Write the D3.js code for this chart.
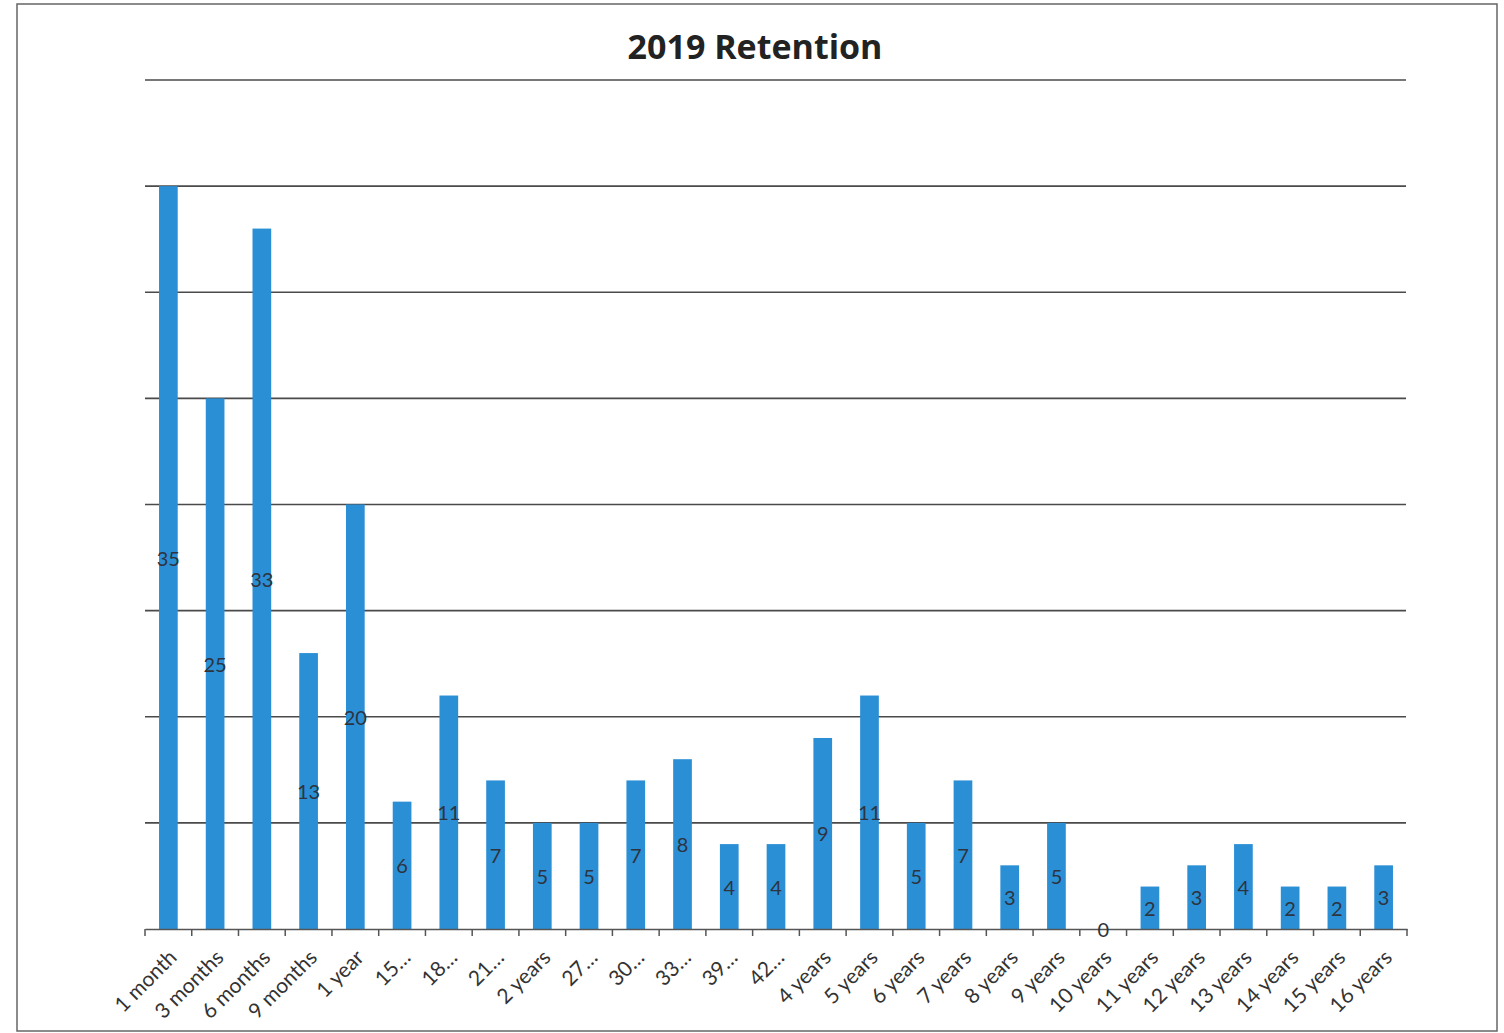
<!DOCTYPE html>
<html>
<head>
<meta charset="utf-8">
<script src="https://cdn.jsdelivr.net/npm/d3@7"></script>
<style>
  html, body { margin: 0; padding: 0; background: #fff; }
  svg { display: block; }
</style>
</head>
<body>
<svg id="chart" width="1504" height="1033"></svg>
<script>
const title = "2019 Retention";
const categories = ["1 month", "3 months", "6 months", "9 months", "1 year", "15…", "18…", "21…", "2 years", "27…", "30…", "33…", "39…", "42…", "4 years", "5 years", "6 years", "7 years", "8 years", "9 years", "10 years", "11 years", "12 years", "13 years", "14 years", "15 years", "16 years"];
const values = [35, 25, 33, 13, 20, 6, 11, 7, 5, 5, 7, 8, 4, 4, 9, 11, 5, 7, 3, 5, 0, 2, 3, 4, 2, 2, 3];
const yTicks = [0, 5, 10, 15, 20, 25, 30, 35, 40];

const svg = d3.select("#chart");
const font = "Lato, 'Open Sans', 'Noto Sans', sans-serif";

// page frame
svg.append("rect").attr("x", 17).attr("y", 4).attr("width", 1480).attr("height", 1027)
  .attr("fill", "none").attr("stroke", "#666").attr("stroke-width", 1.5);

const x = d3.scaleBand().domain(categories).range([145, 1407]).paddingInner(0.6).paddingOuter(0.3);
const y = d3.scaleLinear().domain([0, 40]).range([929, 80]);

// gridlines
svg.append("g").selectAll("line").data(yTicks.filter(d => d > 0)).join("line")
  .attr("x1", 145).attr("x2", 1406)
  .attr("y1", d => y(d)).attr("y2", d => y(d))
  .attr("stroke", "#4a4a4a").attr("stroke-width", 1.6);

// bars
svg.append("g").selectAll("rect").data(values).join("rect")
  .attr("x", (d, i) => x(categories[i]))
  .attr("y", d => y(d))
  .attr("width", x.bandwidth())
  .attr("height", d => y(0) - y(d))
  .attr("fill", "#2b8fd6");

// x axis
const xAxis = d3.axisBottom(x).tickSize(0).tickFormat("");
const gx = svg.append("g").attr("transform", `translate(0,${y(0)})`).call(xAxis);
gx.select(".domain").attr("stroke", "#555").attr("stroke-width", 1.6);
const boundaries = d3.range(categories.length + 1).map(i => 145 + i * (1407 - 145) / categories.length);
gx.selectAll(".btick").data(boundaries).join("line").attr("class", "btick")
  .attr("x1", d => d).attr("x2", d => d).attr("y1", 0).attr("y2", 7)
  .attr("stroke", "#555").attr("stroke-width", 1.5);

// x labels rotated
svg.append("g").selectAll("text").data(categories).join("text")
  .attr("transform", d => `translate(${x(d) + x.bandwidth() / 2 + 6},${y(0) + 26}) rotate(-45)`)
  .attr("text-anchor", "end")
  .attr("dominant-baseline", "middle")
  .attr("font-family", font)
  .attr("font-size", 21)
  .attr("fill", "#333")
  .text(d => d);

// data labels
svg.append("g").selectAll("text").data(values).join("text")
  .attr("x", (d, i) => x(categories[i]) + x.bandwidth() / 2)
  .attr("y", d => (y(d) + y(0)) / 2)
  .attr("text-anchor", "middle")
  .attr("dominant-baseline", "central")
  .attr("font-family", font)
  .attr("font-size", 20)
  .attr("fill", "#2d3440")
  .text(d => d);

// title
svg.append("text").attr("x", 755).attr("y", 59)
  .attr("text-anchor", "middle")
  .attr("font-family", "'Open Sans', 'Noto Sans', sans-serif")
  .attr("font-weight", "bold")
  .attr("font-size", 34)
  .attr("fill", "#222")
  .text(title);
</script>
</body>
</html>
